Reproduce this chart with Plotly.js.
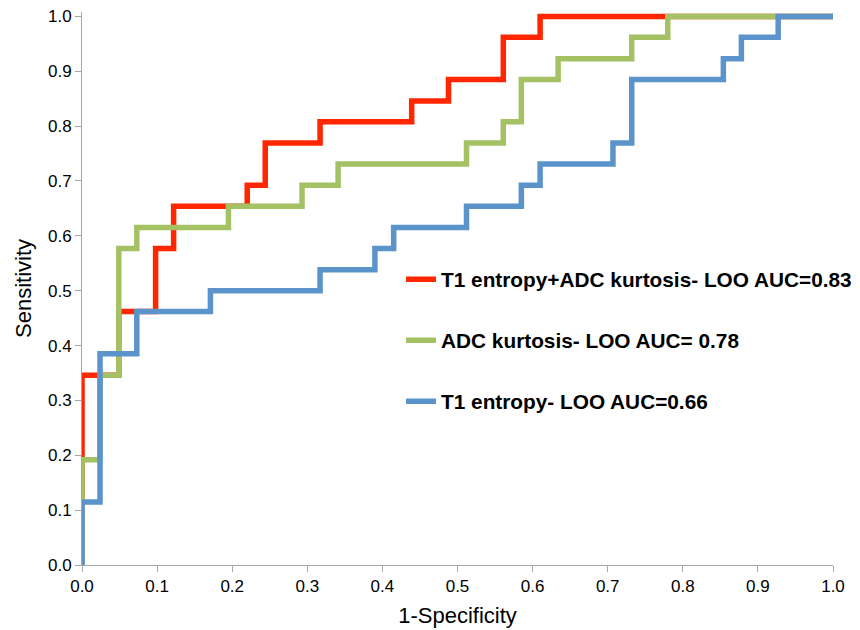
<!DOCTYPE html>
<html>
<head>
<meta charset="utf-8">
<script src="https://cdn.plot.ly/plotly-3.0.1.min.js"></script>
<style>html,body{margin:0;padding:0;background:#fff;}#chart{width:860px;height:630px;}</style>
</head>
<body>
<div id="chart"></div>
<script>
// ROC step corners (1-Specificity, Sensitivity)
var comboX = [0, 0, 0.049, 0.098, 0.122, 0.220, 0.244, 0.317, 0.439, 0.488, 0.561, 0.610, 1.0];
var comboY = [0, 0.346, 0.462, 0.577, 0.654, 0.692, 0.769, 0.808, 0.846, 0.885, 0.962, 1.0, 1.0];

var adcX = [0, 0, 0.024, 0.049, 0.073, 0.195, 0.293, 0.341, 0.512, 0.561, 0.585, 0.634, 0.732, 0.780, 1.0];
var adcY = [0, 0.192, 0.346, 0.577, 0.615, 0.654, 0.692, 0.731, 0.769, 0.808, 0.885, 0.923, 0.962, 1.0, 1.0];

var t1X = [0, 0, 0.024, 0.073, 0.171, 0.317, 0.390, 0.415, 0.512, 0.585, 0.610, 0.707, 0.732, 0.854, 0.878, 0.927, 1.0];
var t1Y = [0, 0.115, 0.385, 0.462, 0.500, 0.538, 0.577, 0.615, 0.654, 0.692, 0.731, 0.769, 0.885, 0.923, 0.962, 1.0, 1.0];

var seriesNames = ["T1 entropy+ADC kurtosis- LOO AUC=0.83", "ADC kurtosis- LOO AUC= 0.78", "T1 entropy- LOO AUC=0.66"];
var tickVals = [0, 0.1, 0.2, 0.3, 0.4, 0.5, 0.6, 0.7, 0.8, 0.9, 1.0];
var tickText = ["0.0", "0.1", "0.2", "0.3", "0.4", "0.5", "0.6", "0.7", "0.8", "0.9", "1.0"];

var colors = ["#FF2600", "#A4C264", "#5B94CB"];
var xs = [comboX, adcX, t1X];
var ys = [comboY, adcY, t1Y];

var traces = [];
for (var i = 0; i < 3; i++) {
  traces.push({
    x: xs[i], y: ys[i], type: 'scatter', mode: 'lines',
    name: seriesNames[i], legendgroup: 'g' + i,
    line: {shape: 'hv', color: colors[i], width: 5.5},
    hoverinfo: 'x+y'
  });
}

var axisFont = {family: 'Liberation Sans, Arial, sans-serif', size: 17, color: '#000'};
var titleFont = {family: 'Liberation Sans, Arial, sans-serif', size: 22, color: '#000'};

var layout = {
  width: 860, height: 630,
  margin: {l: 82, r: 27, t: 12, b: 64.5, pad: 0, autoexpand: false},
  paper_bgcolor: '#fff', plot_bgcolor: '#fff',
  showlegend: true,
  legend: {
    x: 0.4248, y: 0.553, xanchor: 'left', yanchor: 'top',
    font: {family: 'Liberation Sans, Arial, sans-serif', size: 20.8, color: '#000', weight: 'bold'},
    bgcolor: 'rgba(0,0,0,0)', borderwidth: 0,
    tracegroupgap: 31
  },
  xaxis: {
    range: [0, 1.0], tickvals: tickVals, ticktext: tickText,
    showgrid: false, zeroline: false, showline: true, linecolor: '#A6A6A6', linewidth: 1,
    ticks: 'outside', ticklen: 6, tickcolor: '#A6A6A6', tickwidth: 1,
    tickfont: axisFont, automargin: false,
    title: {text: '1-Specificity', font: titleFont, standoff: 12}
  },
  yaxis: {
    range: [0, 1.008], tickvals: tickVals, ticktext: tickText,
    showgrid: false, zeroline: false, showline: true, linecolor: '#A6A6A6', linewidth: 1,
    ticks: 'outside', ticklen: 6, tickcolor: '#A6A6A6', tickwidth: 1,
    tickfont: axisFont, automargin: false,
    title: {text: 'Sensitivity', font: titleFont, standoff: 10}
  }
};

Plotly.newPlot('chart', traces, layout, {displayModeBar: false, staticPlot: true});
</script>
</body>
</html>
